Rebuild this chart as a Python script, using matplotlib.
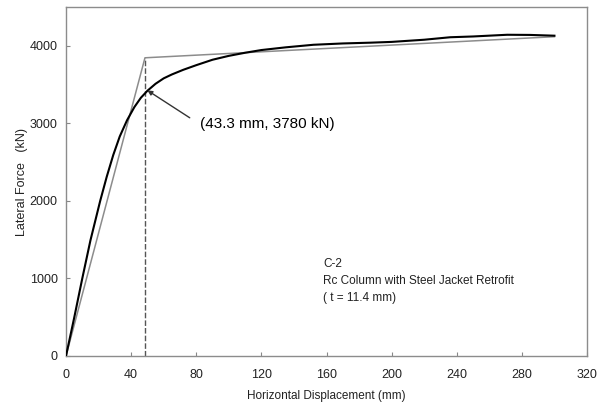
import numpy as np
import matplotlib.pyplot as plt

plt.rc('font', **{'family': 'Liberation Sans', 'size': 9})

# Measured pushover response (thick black curve)
disp = [0, 5, 10, 15, 21, 25, 29, 33, 37.5, 42, 46, 50, 55, 60, 65, 72, 80,
        90, 100, 110, 120, 135, 152, 170, 187, 200, 220, 236, 250, 271, 285, 300]
force = [0, 490, 1000, 1490, 2000, 2310, 2590, 2830, 3040, 3210, 3330, 3420,
         3510, 3580, 3630, 3690, 3750, 3820, 3870, 3910, 3945, 3980, 4013,
         4030, 4040, 4050, 4078, 4110, 4120, 4142, 4140, 4130]

# Idealised bilinear envelope
bl_disp = [0, 48.5, 300]
bl_force = [0, 3845, 4117]

yield_disp = 48.5
yield_pt = (50, 3425)
yield_label = '(43.3 mm, 3780 kN)'

xticks = np.arange(0, 321, 40)
yticks = np.arange(0, 4001, 1000)

fig = plt.figure(figsize=(6.06, 4.05), dpi=100)
ax = fig.add_axes([66/606, 1 - 356/405, 521/606, 349/405])

ax.plot(bl_disp, bl_force, color='#8c8c8c', lw=1.1, zorder=2)
ax.plot(disp, force, color='black', lw=1.5, zorder=3)
ax.plot([yield_disp, yield_disp], [0, bl_force[1]], color='#555555',
        lw=1.0, ls=(0, (4, 1.5)), zorder=1)

ax.annotate(yield_label, xy=yield_pt, xytext=(82, 2990),
            fontsize=11, va='center', ha='left',
            arrowprops=dict(arrowstyle='-|>', color='#333333', lw=1.0,
                            mutation_scale=7, shrinkA=6, shrinkB=0,
                            relpos=(0, 0.5)))

ax.text(158, 970, 'C-2\nRc Column with Steel Jacket Retrofit\n( t = 11.4 mm)',
        fontsize=8.5, va='center', ha='left', linespacing=1.55, color='#222222')

ax.set_xlim(0, 320)
ax.set_ylim(0, 4500)
ax.set_xticks(xticks)
ax.set_yticks(yticks)
ax.tick_params(direction='in', length=3, color='#888888', labelsize=9,
               labelcolor='#222222')
ax.tick_params(axis='x', pad=9)
ax.tick_params(axis='y', pad=6)
for s in ax.spines.values():
    s.set_color('#8c8c8c')
    s.set_linewidth(1.0)

ax.set_xlabel('Horizontal Displacement (mm)', fontsize=8.5, labelpad=7,
              color='#222222')
ax.set_ylabel('Lateral Force   (kN)', fontsize=9, labelpad=1, color='#222222')

fig.savefig('out.png', dpi=100)
